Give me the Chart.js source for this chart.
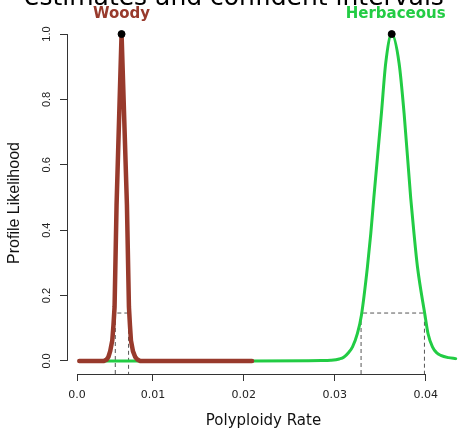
<!DOCTYPE html>
<html>
<head>
<meta charset="utf-8">
<script src="https://cdn.jsdelivr.net/npm/chart.js@4.4.1/dist/chart.umd.min.js"></script>
<style>
  body { margin: 0; background: #fff; }
  #wrap { width: 460px; height: 430px; }
</style>
</head>
<body>
<div id="wrap"><canvas id="plCanvas" width="460" height="430"></canvas></div>
<script>
// profile likelihood curves
const woodyRate = [0.0019, 0.0046, 0.0049, 0.0051, 0.0053, 0.00553, 0.00566, 0.00578, 0.0060, 0.00655,
                   0.00714, 0.00736, 0.00747, 0.00758, 0.0078, 0.00805, 0.0083, 0.0086, 0.0209];
const woodyLik  = [0, 0, 0.004, 0.012, 0.03, 0.063, 0.11, 0.165, 0.477, 1.0,
                   0.477, 0.165, 0.11, 0.063, 0.03, 0.012, 0.004, 0, 0];

const herbRate = [0.0019, 0.0210, 0.0285, 0.02956, 0.0305, 0.03102, 0.0315, 0.03195, 0.03249, 0.03293,
                  0.03359, 0.03396, 0.03429, 0.03513, 0.0356, 0.03626, 0.03707, 0.03762, 0.03835, 0.03871,
                  0.03909, 0.03992, 0.04025, 0.04074, 0.0412, 0.04165, 0.0425, 0.0433];
const herbLik  = [0, 0, 0.001, 0.002, 0.006, 0.012, 0.025, 0.043, 0.084, 0.140,
                  0.288, 0.390, 0.498, 0.758, 0.911, 1.0, 0.911, 0.758, 0.498, 0.390,
                  0.288, 0.140, 0.084, 0.043, 0.025, 0.017, 0.010, 0.007];

// MLE and confidence limits
const woodyMLE = 0.00655;
const herbMLE = 0.03626;
const woodyCI = [0.00586, 0.00732];
const herbCI = [0.03289, 0.03986];
const ciLevel = 0.1465;

const xTickValues = [0.00165, 0.01, 0.02, 0.03, 0.04];
const xTickLabels = ['0.0', '0.01', '0.02', '0.03', '0.04'];
const yTickValues = [0, 0.2, 0.4, 0.6, 0.8, 1.0];
const yTickLabels = ['0.0', '0.2', '0.4', '0.6', '0.8', '1.0'];

const brown = '#983a2c';
const green = '#22cc44';
const yFloor = -0.04;

function pts(xs, ys) {
  return xs.map((x, i) => ({ x: x, y: ys[i] }));
}
function ciBox(ci) {
  return [{ x: ci[0], y: yFloor }, { x: ci[0], y: ciLevel }, { x: ci[1], y: ciLevel }, { x: ci[1], y: yFloor }];
}

// extra drawing: cut-off title, group labels, rotated y labels, R-style axis lines
const extras = {
  id: 'extras',
  afterDraw(chart) {
    const ctx = chart.ctx;
    const xs = chart.scales.x, ys = chart.scales.y;
    const area = chart.chartArea;
    ctx.save();

    ctx.strokeStyle = '#333';
    ctx.lineWidth = 1;
    ctx.beginPath();
    ctx.moveTo(xs.getPixelForValue(xTickValues[0]), area.bottom + 0.5);
    ctx.lineTo(xs.getPixelForValue(xTickValues[xTickValues.length - 1]), area.bottom + 0.5);
    ctx.moveTo(area.left + 0.5, ys.getPixelForValue(yTickValues[0]));
    ctx.lineTo(area.left + 0.5, ys.getPixelForValue(yTickValues[yTickValues.length - 1]));
    ctx.stroke();

    ctx.fillStyle = '#222';
    ctx.font = '11px "Liberation Sans", Arial, sans-serif';
    ctx.textAlign = 'center';
    ctx.textBaseline = 'middle';
    yTickValues.forEach((v, i) => {
      ctx.save();
      ctx.translate(47, ys.getPixelForValue(v));
      ctx.rotate(-Math.PI / 2);
      ctx.fillText(yTickLabels[i], 0, 0);
      ctx.restore();
    });

    // y axis title
    ctx.save();
    ctx.fillStyle = '#111';
    ctx.font = '16px "Liberation Sans", Arial, sans-serif';
    ctx.translate(15, 203);
    ctx.rotate(-Math.PI / 2);
    ctx.fillText('Profile Likelihood', 0, 0);
    ctx.restore();

    ctx.fillStyle = '#000';
    ctx.font = '25px "DejaVu Sans", sans-serif';
    ctx.textBaseline = 'alphabetic';
    ctx.fillText('estimates and confident intervals', 234, 5);

    ctx.font = 'bold 15px "DejaVu Sans", sans-serif';
    ctx.textBaseline = 'middle';
    ctx.fillStyle = brown;
    ctx.fillText('Woody', xs.getPixelForValue(woodyMLE), 14);
    ctx.fillStyle = green;
    ctx.fillText('Herbaceous', xs.getPixelForValue(herbMLE) + 4, 14);
    ctx.restore();
  }
};

new Chart(document.getElementById('plCanvas'), {
  type: 'scatter',
  data: {
    datasets: [
      {
        label: 'MLE',
        data: pts([woodyMLE, herbMLE], [1, 1]),
        backgroundColor: '#000',
        borderColor: '#000',
        pointRadius: 3.5,
        showLine: false
      },
      {
        label: 'Woody',
        data: pts(woodyRate, woodyLik),
        borderColor: brown,
        borderWidth: 4.5,
        borderCapStyle: 'round',
        borderJoinStyle: 'round',
        pointRadius: 0,
        showLine: true,
        tension: 0
      },
      {
        label: 'Herbaceous',
        data: pts(herbRate, herbLik),
        borderColor: green,
        borderWidth: 3,
        borderCapStyle: 'round',
        borderJoinStyle: 'round',
        pointRadius: 0,
        showLine: true,
        cubicInterpolationMode: 'monotone'
      },
      {
        label: 'Woody CI',
        data: ciBox(woodyCI),
        borderColor: '#555',
        borderWidth: 1,
        borderDash: [4, 3],
        pointRadius: 0,
        showLine: true
      },
      {
        label: 'Herbaceous CI',
        data: ciBox(herbCI),
        borderColor: '#555',
        borderWidth: 1,
        borderDash: [4, 3],
        pointRadius: 0,
        showLine: true
      }
    ]
  },
  options: {
    responsive: false,
    animation: false,
    layout: { autoPadding: false, padding: { top: 21, right: 0, left: 0, bottom: 0 } },
    plugins: { legend: { display: false }, tooltip: { enabled: false } },
    scales: {
      x: {
        type: 'linear',
        min: 0.000549,
        max: 0.04377,
        afterBuildTicks: (scale) => { scale.ticks = xTickValues.map(v => ({ value: v })); },
        afterFit: (scale) => { scale.height = 56; },
        ticks: {
          autoSkip: false,
          maxRotation: 0,
          padding: 8,
          color: '#222',
          font: { family: 'DejaVu Sans', size: 11 },
          callback: (value, index) => xTickLabels[index]
        },
        grid: { drawOnChartArea: false, drawTicks: true, tickLength: 7, tickColor: '#333' },
        border: { display: false },
        title: {
          display: true,
          text: 'Polyploidy Rate',
          color: '#111',
          font: { family: 'DejaVu Sans', size: 15 },
          padding: { top: 0, bottom: 0 }
        }
      },
      y: {
        min: yFloor,
        max: 1.04,
        afterBuildTicks: (scale) => { scale.ticks = yTickValues.map(v => ({ value: v })); },
        afterFit: (scale) => { scale.width = 67; },
        ticks: { display: false },
        grid: { drawOnChartArea: false, drawTicks: true, tickLength: 7, tickColor: '#333' },
        border: { display: false }
      }
    }
  },
  plugins: [extras]
});
</script>
</body>
</html>
